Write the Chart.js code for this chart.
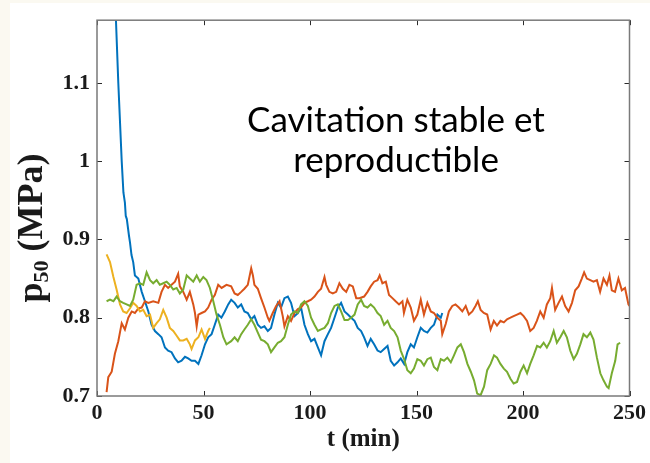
<!DOCTYPE html>
<html lang="fr">
<head>
<meta charset="UTF-8">
<title>p50 - cavitation</title>
<script src="https://cdn.jsdelivr.net/npm/chart.js"></script>
<style>
  body { margin: 0; background: #fbf9f1; }
  #paper { position: absolute; left: 10px; top: 3px; right: 0; bottom: 0; width: 640px; height: 460px; background: #fff; }
  #wrap { position: absolute; left: 0; top: 0; width: 650px; height: 463px; }
</style>
</head>
<body>
<div id="paper"></div>
<div id="wrap"><canvas id="c" width="650" height="463"></canvas></div>
<script>
// axes
const xTicks = [0, 50, 100, 150, 200, 250];
const yTicks = [0.7, 0.8, 0.9, 1, 1.1];
const yMin = 0.7, yMax = 1.18;
const noteLines = ['Cavitation stable et', 'reproductible'];

// blue run
const blueT = [8, 8.9, 10, 11.6, 12.4, 13.1, 13.5, 14, 15, 15.5, 16.2, 17, 17.8, 19.4, 21, 22.5, 24.1, 25.6, 27.2, 28.8,
  30.3, 31.9, 33.4, 35, 36.6, 38.1, 39.7, 41.3, 42.8, 44.4, 46, 47.6, 49.1, 50.7, 52.2, 53.8, 55.3, 56.9, 58.4, 60,
  61.6, 63, 64.6, 66.1, 67.7, 69.2, 70.8, 72.4, 73.9, 75.5, 77, 78.6, 80.2, 81.7, 83.3, 84.9, 86.4, 88, 89.6, 91.1,
  92.7, 94.3, 95.8, 97.4, 99, 100.5, 102.1, 103.7, 105.2, 106.8, 108.4, 109.9, 111.5, 113.1, 114.6, 116.2, 117.8, 119.3, 120.9, 122.4,
  124, 125.4, 127, 128.5, 130.1, 131.7, 133.2, 134.8, 136.4, 137.9, 139.5, 141.1, 142.6, 144.2, 145.7, 147.3, 148.8, 150.4, 152, 153.5,
  155.1, 156.7, 158.2, 159.8, 161.4, 162.1];
const blueV = [1.24, 1.18, 1.10, 1.00, 0.96, 0.947, 0.93, 0.926, 0.905, 0.896, 0.88, 0.871, 0.854, 0.850, 0.833, 0.821, 0.808, 0.791, 0.783, 0.779,
  0.775, 0.762, 0.758, 0.756, 0.748, 0.743, 0.745, 0.750, 0.748, 0.745, 0.745, 0.741, 0.752, 0.766, 0.775, 0.779, 0.791, 0.804, 0.800, 0.808,
  0.817, 0.823, 0.819, 0.813, 0.817, 0.808, 0.806, 0.798, 0.802, 0.791, 0.787, 0.789, 0.783, 0.787, 0.804, 0.819, 0.813, 0.825, 0.827, 0.819,
  0.802, 0.806, 0.813, 0.791, 0.779, 0.770, 0.773, 0.762, 0.752, 0.770, 0.779, 0.787, 0.800, 0.813, 0.819, 0.808, 0.804, 0.800, 0.796, 0.787,
  0.783, 0.775, 0.764, 0.773, 0.766, 0.758, 0.756, 0.760, 0.764, 0.745, 0.739, 0.743, 0.748, 0.741, 0.756, 0.766, 0.762, 0.775, 0.787, 0.783,
  0.781, 0.787, 0.791, 0.804, 0.800, 0.806];

// orange run
const orangeT = [4.5, 5.3, 6.9, 8.4, 10, 11.6, 13.1, 14.7, 16.3, 17.8, 19.4, 21, 22.5, 24.1, 26.4, 28.8, 30.3, 31.9, 33.4, 35,
  36.6, 38.1, 38.9, 40.5, 42.1, 43.6, 45.2, 46, 46.8, 47.6, 49.1, 50.7, 52.2, 53.8, 55.3, 56.9, 58.5, 60.8, 63, 64.6,
  66.1, 67.7, 69.2, 70.8, 72.4, 73.2, 73.9, 75.5, 77, 78.6, 80.2, 80.9, 82.5, 84.1, 85.7, 87.2, 88, 89.6, 91.1, 92.7,
  94.3, 95.8, 97.4, 99, 100.5, 102.1, 103.7, 105.2, 106.8, 107.6, 109.1, 110.7, 112.3, 113.8, 115.4, 117, 118.5, 120.1, 121.7, 123.2,
  125.4, 127, 128.5, 130.1, 131.7, 132.7, 134, 135.6, 137.1, 138.7, 140.2, 141.8, 143.4, 144.1, 145.7, 147.3, 148.8, 150.4, 152, 153.5,
  155.1, 156.7, 158.2, 159.8, 161.4, 162.1, 163.7, 165.2, 166.8, 168.3, 169.9, 171.5, 173.1, 174.6, 176.2, 177.7, 178.8, 180.1, 181.6, 183.2,
  184.8, 186.3, 187.8, 189.4, 191, 192.5, 194.1, 195.6, 197.2, 198.8, 200.3, 201.9, 203.4, 205, 206.5, 208.1, 209.7, 211.2, 212.8, 213.6,
  215.1, 216.7, 218.3, 219.8, 221.4, 223, 224.5, 226.1, 227.6, 228.7, 230, 231.6, 233.1, 234.7, 236.2, 237.8, 239.4, 240.6, 241.7, 243.2,
  244.8, 246.4, 247.9, 249.5, 250];
const orangeV = [0.705, 0.724, 0.731, 0.754, 0.770, 0.793, 0.785, 0.800, 0.808, 0.806, 0.812, 0.813, 0.821, 0.819, 0.821, 0.819, 0.833, 0.842, 0.838, 0.842,
  0.846, 0.856, 0.840, 0.833, 0.823, 0.833, 0.817, 0.806, 0.789, 0.804, 0.806, 0.808, 0.813, 0.823, 0.829, 0.842, 0.838, 0.842, 0.840, 0.831,
  0.829, 0.833, 0.837, 0.842, 0.863, 0.854, 0.842, 0.837, 0.825, 0.813, 0.800, 0.796, 0.806, 0.815, 0.821, 0.802, 0.789, 0.802, 0.796, 0.806,
  0.811, 0.813, 0.819, 0.821, 0.823, 0.827, 0.833, 0.837, 0.852, 0.842, 0.833, 0.831, 0.833, 0.844, 0.837, 0.833, 0.842, 0.840, 0.825, 0.825,
  0.827, 0.833, 0.840, 0.846, 0.848, 0.854, 0.844, 0.846, 0.829, 0.825, 0.821, 0.817, 0.821, 0.806, 0.823, 0.813, 0.796, 0.804, 0.823, 0.804,
  0.819, 0.808, 0.806, 0.800, 0.796, 0.779, 0.792, 0.808, 0.815, 0.817, 0.813, 0.808, 0.815, 0.804, 0.808, 0.815, 0.821, 0.810, 0.806, 0.804,
  0.785, 0.796, 0.790, 0.796, 0.794, 0.798, 0.800, 0.802, 0.804, 0.806, 0.802, 0.796, 0.783, 0.787, 0.796, 0.808, 0.800, 0.817, 0.825, 0.838,
  0.810, 0.819, 0.827, 0.815, 0.808, 0.819, 0.835, 0.840, 0.850, 0.858, 0.850, 0.848, 0.846, 0.848, 0.833, 0.850, 0.842, 0.854, 0.835, 0.833,
  0.850, 0.835, 0.838, 0.817, 0.815];

// yellow run
const yellowT = [4.5, 6.1, 7.7, 9.2, 10.8, 12.3, 13.9, 15.5, 17, 18.6, 20.2, 21.7, 23.3, 24.9, 26.4, 28, 29.5, 31.1, 32.7, 34.2,
  35.8, 37.4, 38.9, 40.5, 42.1, 43.6, 44.4, 46, 47.6, 49.1, 50.7, 52.2, 53];
const yellowV = [0.881, 0.871, 0.852, 0.836, 0.817, 0.808, 0.806, 0.812, 0.819, 0.815, 0.808, 0.810, 0.802, 0.804, 0.787, 0.793, 0.798, 0.810, 0.800, 0.787,
  0.783, 0.777, 0.771, 0.771, 0.773, 0.766, 0.760, 0.771, 0.775, 0.785, 0.773, 0.783, 0.787];

// green run
const greenT = [4.5, 6.1, 7.7, 9.2, 10.8, 12.3, 13.9, 15.5, 17, 18.6, 20.2, 21.7, 23.3, 24.9, 26.4, 28, 29.5, 31.1, 32.7, 34.2,
  35.8, 37.4, 38.9, 40.5, 42.1, 43.6, 45.2, 46.8, 48.3, 49.9, 51.4, 53, 54.6, 56.1, 57.7, 59.3, 60.8, 63, 64.6, 66.1,
  67.7, 69.2, 70.8, 72.4, 73.9, 75.5, 77, 78.6, 80.2, 81.7, 83.3, 84.9, 86.4, 88, 89.6, 91.1, 92.7, 94.3, 95.8, 97.4,
  99, 100.5, 102.1, 103.7, 105.2, 106.8, 108.4, 109.9, 111.5, 113.1, 114.6, 116.2, 117.8, 119.3, 120.9, 122.4, 124, 125.4, 127, 128.5,
  130.1, 131.7, 133.2, 134.8, 136.4, 137.9, 139.5, 141.1, 142.6, 144.2, 145.7, 147.3, 148.8, 150.4, 152, 153.5, 155.1, 156.7, 158.2, 159.8,
  161.4, 162.9, 164.5, 166.1, 167.6, 169.2, 170.8, 172.3, 173.9, 175.5, 177, 178.5, 180.1, 181.7, 183.2, 184.8, 186.4, 187.8, 189.4, 191,
  192.5, 194.1, 195.6, 197.2, 198.8, 200.3, 201.9, 203.4, 205, 206.6, 208.1, 209.7, 211.2, 212.8, 214.4, 215.9, 217.5, 219.1, 220.6, 222.2,
  223.8, 225.3, 226.9, 228.4, 230, 231.6, 233.1, 234.7, 236.3, 237.8, 239.4, 240.2, 241.7, 243.3, 244.4, 245.6];
const greenV = [0.821, 0.823, 0.821, 0.827, 0.821, 0.819, 0.817, 0.815, 0.823, 0.842, 0.844, 0.842, 0.858, 0.848, 0.844, 0.848, 0.842, 0.844, 0.846, 0.842,
  0.836, 0.838, 0.831, 0.836, 0.854, 0.850, 0.846, 0.854, 0.846, 0.852, 0.848, 0.838, 0.821, 0.804, 0.791, 0.775, 0.766, 0.770, 0.775, 0.770,
  0.779, 0.785, 0.791, 0.798, 0.791, 0.781, 0.772, 0.770, 0.766, 0.756, 0.762, 0.768, 0.770, 0.775, 0.791, 0.804, 0.808, 0.806, 0.817, 0.821,
  0.815, 0.800, 0.791, 0.783, 0.785, 0.787, 0.793, 0.806, 0.815, 0.817, 0.808, 0.797, 0.797, 0.800, 0.804, 0.817, 0.823, 0.815, 0.813, 0.817,
  0.813, 0.806, 0.802, 0.791, 0.796, 0.787, 0.783, 0.775, 0.758, 0.747, 0.733, 0.729, 0.735, 0.747, 0.745, 0.739, 0.747, 0.749, 0.737, 0.733,
  0.747, 0.745, 0.749, 0.743, 0.752, 0.762, 0.766, 0.756, 0.741, 0.731, 0.720, 0.703, 0.701, 0.712, 0.733, 0.741, 0.752, 0.749, 0.741, 0.735,
  0.731, 0.722, 0.716, 0.718, 0.731, 0.739, 0.729, 0.741, 0.752, 0.764, 0.762, 0.768, 0.762, 0.770, 0.783, 0.768, 0.775, 0.783, 0.775, 0.758,
  0.747, 0.754, 0.766, 0.779, 0.775, 0.781, 0.772, 0.749, 0.729, 0.720, 0.712, 0.710, 0.729, 0.745, 0.766, 0.768];

const pts = (t, v) => t.map((x, i) => ({ x, y: v[i] }));

const serif = '"Liberation Serif", "Times New Roman", serif';

// box + inward ticks + note + y title with subscript
const decor = {
  id: 'decor',
  afterDatasetsDraw(chart) {
    const { ctx, chartArea: a, scales: { x, y } } = chart;
    ctx.save();
    ctx.strokeStyle = '#2b2b2b';
    ctx.lineWidth = 1;
    ctx.beginPath();
    xTicks.forEach(v => {
      const px = Math.round(x.getPixelForValue(v)) + 0.5;
      ctx.moveTo(px, a.bottom); ctx.lineTo(px, a.bottom - 5);
      ctx.moveTo(px, a.top); ctx.lineTo(px, a.top + 5);
    });
    yTicks.forEach(v => {
      const py = Math.round(y.getPixelForValue(v)) + 0.5;
      ctx.moveTo(a.left, py); ctx.lineTo(a.left + 5, py);
      ctx.moveTo(a.right, py); ctx.lineTo(a.right - 5, py);
    });
    ctx.stroke();
    ctx.strokeStyle = '#7a7a7a';
    ctx.lineWidth = 1.5;
    ctx.strokeRect(a.left, a.top, a.right - a.left, a.bottom - a.top);

    ctx.fillStyle = '#000';
    ctx.font = '35px Lato';
    ctx.textAlign = 'center';
    ctx.textBaseline = 'middle';
    ctx.fillText(noteLines[0], 396, 121);
    ctx.fillText(noteLines[1], 396, 161);

    // y title
    ctx.translate(42, 228);
    ctx.rotate(-Math.PI / 2);
    ctx.textAlign = 'left';
    ctx.textBaseline = 'alphabetic';
    ctx.fillStyle = '#1a1a1a';
    const big = 'bold 36px ' + serif, small = 'bold 22px ' + serif;
    ctx.font = big; const w1 = ctx.measureText('p').width, w3 = ctx.measureText(' (MPa)').width;
    ctx.font = small; const w2 = ctx.measureText('50').width;
    let sx = -(w1 + w2 + w3) / 2;
    ctx.font = big; ctx.fillText('p', sx, 0); sx += w1;
    ctx.font = small; ctx.fillText('50', sx, 6); sx += w2;
    ctx.font = big; ctx.fillText(' (MPa)', sx, 0);
    ctx.restore();
  }
};

const line = (data, color) => ({ data, borderColor: color, borderWidth: 2, pointRadius: 0, tension: 0, fill: false });

new Chart(document.getElementById('c'), {
  type: 'line',
  data: {
    datasets: [
      line(pts(greenT, greenV), '#77AC30'),
      line(pts(yellowT, yellowV), '#EDB120'),
      line(pts(orangeT, orangeV), '#D95319'),
      line(pts(blueT, blueV), '#0072BD')
    ]
  },
  options: {
    responsive: false,
    animation: false,
    devicePixelRatio: 1,
    layout: { padding: { left: 0, right: 20, top: 15, bottom: 0 } },
    plugins: { legend: { display: false }, tooltip: { enabled: false } },
    scales: {
      x: {
        type: 'linear', min: 0, max: 250,
        afterBuildTicks: s => { s.ticks = xTicks.map(value => ({ value })); },
        afterFit: s => { s.height = 67; },
        grid: { display: false, drawTicks: false }, border: { display: false },
        ticks: { color: '#1a1a1a', font: { family: serif, size: 22, weight: 'bold' }, padding: 4, maxRotation: 0 },
        title: { display: true, text: 't (min)', color: '#1a1a1a', font: { family: serif, size: 25, weight: 'bold' }, padding: { top: 0, bottom: 8 } }
      },
      y: {
        type: 'linear', min: yMin, max: yMax,
        afterBuildTicks: s => { s.ticks = yTicks.map(value => ({ value })); },
        afterFit: s => { s.width = 97; },
        grid: { display: false, drawTicks: false }, border: { display: false },
        ticks: { color: '#1a1a1a', font: { family: serif, size: 22, weight: 'bold' }, padding: 7, callback: v => String(v) }
      }
    }
  },
  plugins: [decor]
});
</script>
</body>
</html>
